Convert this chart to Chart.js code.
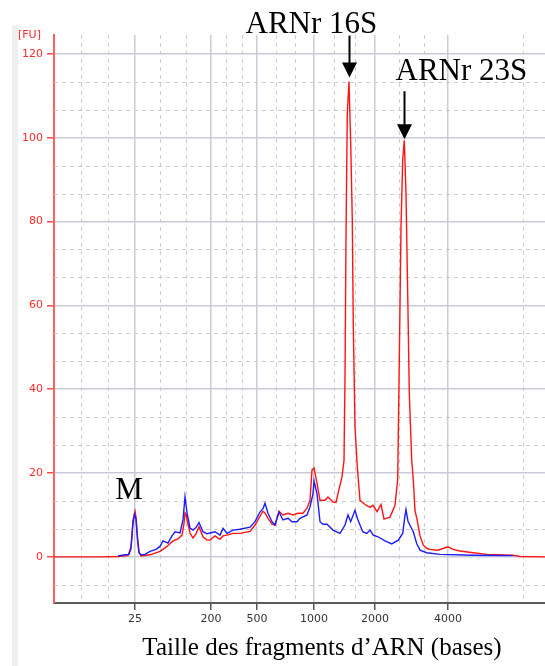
<!DOCTYPE html>
<html>
<head>
<meta charset="utf-8">
<script src="https://cdn.jsdelivr.net/npm/chart.js@4/dist/chart.umd.min.js"></script>
<style>
  body { margin: 0; background: #fff; }
  #wrap { position: relative; width: 545px; height: 666px; }
  #strip { position: absolute; left: 12px; top: 25px; width: 6px; height: 641px; background: #efefef; }
</style>
</head>
<body>
<div id="wrap">
  <div id="strip"></div>
  <canvas id="chart"></canvas>
</div>
<script>
// migration time (s) and fluorescence (FU)
const redTime = [20.0, 24.6, 26.4, 27.4, 27.7, 27.9, 28.1, 28.2, 28.35, 28.5, 28.7, 29.6, 30.6, 31.3, 31.9, 32.4, 32.8, 33.0, 33.1, 33.2, 33.3, 33.6, 33.9, 34.2, 34.5, 34.9, 35.3, 35.6, 36.1, 36.6, 36.9, 37.3, 37.9, 38.6, 39.6, 40.1, 40.6, 40.9, 41.1, 41.4, 41.8, 42.1, 42.5, 42.9, 43.4, 43.9, 44.4, 44.9, 45.3, 45.6, 45.8, 46.0, 46.3, 46.6, 47.1, 47.4, 47.9, 48.2, 48.4, 48.8, 49.0, 49.1, 49.2, 49.33, 49.5, 49.67, 49.83, 49.93, 50.1, 50.33, 50.6, 51.1, 51.6, 51.9, 52.3, 52.7, 53.0, 53.6, 54.1, 54.37, 54.53, 54.7, 54.87, 55.03, 55.2, 55.37, 55.53, 55.77, 55.93, 56.1, 56.3, 56.6, 56.93, 57.3, 57.6, 58.4, 58.9, 59.4, 59.9, 60.6, 61.9, 63.3, 65.9, 66.6, 69.1];
const redFU = [0, 0, 0.1, 0.3, 2.4, 8.8, 10.9, 9.5, 4.8, 1.2, 0.2, 0.5, 1.3, 2.5, 3.8, 4.3, 5.2, 8, 10.5, 10.2, 8.8, 5.7, 4.5, 5.5, 7.2, 4.8, 4.0, 4.0, 5.0, 4.2, 5.0, 5.2, 5.6, 5.6, 6.1, 7.6, 9.7, 10.9, 10.5, 9.2, 7.8, 7.6, 10.9, 10.0, 10.4, 10.0, 10.4, 10.4, 11.6, 13.5, 20.7, 21.2, 17.6, 13.5, 13.5, 14.3, 13.1, 13.0, 15.1, 19.1, 23, 43, 76.4, 105.8, 113.4, 98.7, 80.4, 54.9, 31, 21.5, 13.5, 12.5, 11.8, 12.3, 10.8, 12.5, 9.0, 9.5, 12.3, 18.5, 46.9, 78.8, 94.7, 99.4, 86.7, 62.9, 39, 23.1, 18.3, 11, 9, 5, 2.8, 2, 1.8, 1.6, 2.0, 2.4, 1.8, 1.4, 1.0, 0.6, 0.4, 0.1, 0];

const blueTime = [26.4, 27.1, 27.5, 27.7, 27.9, 28.05, 28.2, 28.35, 28.5, 28.7, 29.1, 29.6, 30.2, 30.6, 30.9, 31.4, 31.8, 32.1, 32.6, 32.9, 33.1, 33.3, 33.6, 33.9, 34.2, 34.5, 34.9, 35.3, 35.6, 36.1, 36.6, 36.9, 37.3, 37.9, 38.6, 39.6, 40.1, 40.6, 40.9, 41.1, 41.4, 41.8, 42.1, 42.5, 42.9, 43.4, 43.8, 44.3, 44.6, 45.3, 45.6, 45.9, 46.0, 46.3, 46.6, 46.9, 47.3, 47.9, 48.6, 49.1, 49.4, 49.67, 50.1, 50.4, 50.87, 51.27, 51.6, 51.93, 52.4, 53.1, 53.77, 54.43, 54.87, 55.05, 55.2, 55.4, 55.67, 55.93, 56.27, 56.6, 57.27, 58.6, 61.9, 65.9];
const blueFU = [0.2, 0.5, 0.6, 2, 8, 10.2, 9, 4, 1, 0.5, 0.6, 1.3, 1.8, 2.5, 3.8, 3.3, 5.0, 6, 5.7, 8.8, 14.3, 10.5, 6.9, 6.4, 7.0, 8.2, 6.0, 5.5, 5.7, 6.0, 5.2, 6.8, 5.6, 6.4, 6.6, 7.1, 8.4, 10.7, 11.5, 12.8, 10.4, 8.4, 7.6, 10.7, 8.8, 9.2, 8.4, 8.4, 9.2, 10.0, 11.9, 15.1, 18.1, 15.1, 8.4, 7.8, 7.8, 6.4, 5.6, 7.6, 10, 8.4, 11.1, 8.8, 6, 5.6, 6.4, 5.2, 4.8, 3.8, 3.1, 4, 5.6, 9, 11.3, 8.5, 7.2, 6.0, 3.2, 1.6, 1, 0.6, 0.4, 0.3];

// ladder peaks: migration time and size label (nt)
const ladderTime = [28.1, 35.7, 40.3, 46.0, 52.1, 59.4];
const ladderLabels = ["25", "200", "500", "1000", "2000", "4000"];
const fuTicks = [0, 20, 40, 60, 80, 100, 120];

// dashed grid: thirds between the ladder lines, and thirds of 20 FU
const majorX = [20.0, ...ladderTime];
const minorX = [66.9];
for (let i = 0; i < majorX.length - 1; i++) {
  const d = (majorX[i + 1] - majorX[i]) / 3;
  minorX.push(majorX[i] + d, majorX[i] + 2 * d);
}
const minorY = [];
for (let v = -20; v <= 120; v += 20) minorY.push(v + 20 / 3, v + 40 / 3);

const toXY = (xs, ys) => xs.map((t, i) => ({ x: t, y: ys[i] }));

const minorGrid = {
  id: "minorGrid",
  beforeDatasetsDraw(chart) {
    const { ctx, chartArea: a, scales } = chart;
    ctx.save();
    ctx.strokeStyle = "#cdcdcd";
    ctx.lineWidth = 1;
    ctx.setLineDash([4, 4]);
    minorX.forEach((t) => {
      const px = Math.round(scales.x.getPixelForValue(t)) + 0.5;
      ctx.beginPath();
      ctx.moveTo(px, a.top);
      ctx.lineTo(px, a.bottom);
      ctx.stroke();
    });
    minorY.forEach((v) => {
      if (v < scales.y.min || v > scales.y.max) return;
      const py = Math.round(scales.y.getPixelForValue(v)) + 0.5;
      ctx.beginPath();
      ctx.moveTo(a.left, py);
      ctx.lineTo(a.right, py);
      ctx.stroke();
    });
    ctx.restore();
  },
};

function arrow(ctx, x, tipY, len) {
  ctx.lineWidth = 2;
  ctx.beginPath();
  ctx.moveTo(x, tipY - len);
  ctx.lineTo(x, tipY - 12);
  ctx.stroke();
  ctx.beginPath();
  ctx.moveTo(x, tipY);
  ctx.lineTo(x - 7.5, tipY - 15);
  ctx.lineTo(x + 7.5, tipY - 15);
  ctx.closePath();
  ctx.fill();
}

const labels = {
  id: "labels",
  afterDraw(chart) {
    const { ctx, scales } = chart;
    const x = scales.x, y = scales.y;
    ctx.save();
    ctx.fillStyle = "#000";
    ctx.strokeStyle = "#000";
    ctx.font = '31px "Liberation Serif"';
    ctx.textBaseline = "alphabetic";

    // 16S peak
    let px = Math.round(x.getPixelForValue(49.5)) + 0.5;
    let py = y.getPixelForValue(113.4);
    ctx.textAlign = "left";
    ctx.fillText("ARNr 16S", px - 104, 33);
    arrow(ctx, px, py - 4, 42);

    // 23S peak
    px = Math.round(x.getPixelForValue(55.03)) + 0.5;
    py = y.getPixelForValue(99.4);
    ctx.fillText("ARNr 23S", px - 9, 80);
    arrow(ctx, px, py - 1, 48);

    // marker
    px = x.getPixelForValue(28.1);
    py = y.getPixelForValue(10.9);
    ctx.textAlign = "center";
    ctx.fillText("M", px - 6, py - 12);

    // axis title
    ctx.font = '25px "Liberation Serif"';
    ctx.fillText("Taille des fragments d\u2019ARN (bases)", 322, 655);

    // unit
    ctx.font = '11px "DejaVu Sans"';
    ctx.fillStyle = "#ff2a2a";
    ctx.textAlign = "left";
    ctx.fillText("[FU]", 18, 38);
    ctx.restore();
  },
};

new Chart(document.getElementById("chart"), {
  type: "line",
  data: {
    datasets: [
      {
        label: "rouge",
        data: toXY(redTime, redFU),
        borderColor: "#ff1414",
        borderWidth: 1.4,
        pointRadius: 0,
        order: 2,
      },
      {
        label: "bleu",
        data: toXY(blueTime, blueFU),
        borderColor: "#1c1cff",
        borderWidth: 1.4,
        pointRadius: 0,
        order: 1,
      },
    ],
  },
  options: {
    responsive: true,
    maintainAspectRatio: false,
    animation: false,
    layout: { padding: { top: 35, right: 0, left: 0, bottom: 0 } },
    plugins: { legend: { display: false }, tooltip: { enabled: false } },
    scales: {
      x: {
        type: "linear",
        min: 20,
        max: 69.1,
        afterBuildTicks: (s) => { s.ticks = ladderTime.map((v) => ({ value: v })); },
        afterFit: (s) => { s.height = 63; },
        ticks: {
          autoSkip: false,
          maxRotation: 0,
          padding: 3,
          color: "#333",
          font: { family: "DejaVu Sans", size: 11 },
          callback: (v) => ladderLabels[ladderTime.indexOf(v)],
        },
        grid: { color: "#c8ccd8", lineWidth: 1.5, tickColor: "#555", tickLength: 7 },
        border: { color: "#5a5a5a", width: 2 },
      },
      y: {
        min: -11,
        max: 124.5,
        afterBuildTicks: (s) => { s.ticks = fuTicks.map((v) => ({ value: v })); },
        afterFit: (s) => { s.width = 54; },
        ticks: {
          padding: 4,
          color: "#ff2a2a",
          font: { family: "DejaVu Sans", size: 11 },
        },
        grid: { color: "#c8ccd8", lineWidth: 1.5, tickColor: "#ff4a4a", tickLength: 7 },
        border: { color: "#ff6060", width: 2 },
      },
    },
  },
  plugins: [minorGrid, labels],
});
</script>
</body>
</html>
